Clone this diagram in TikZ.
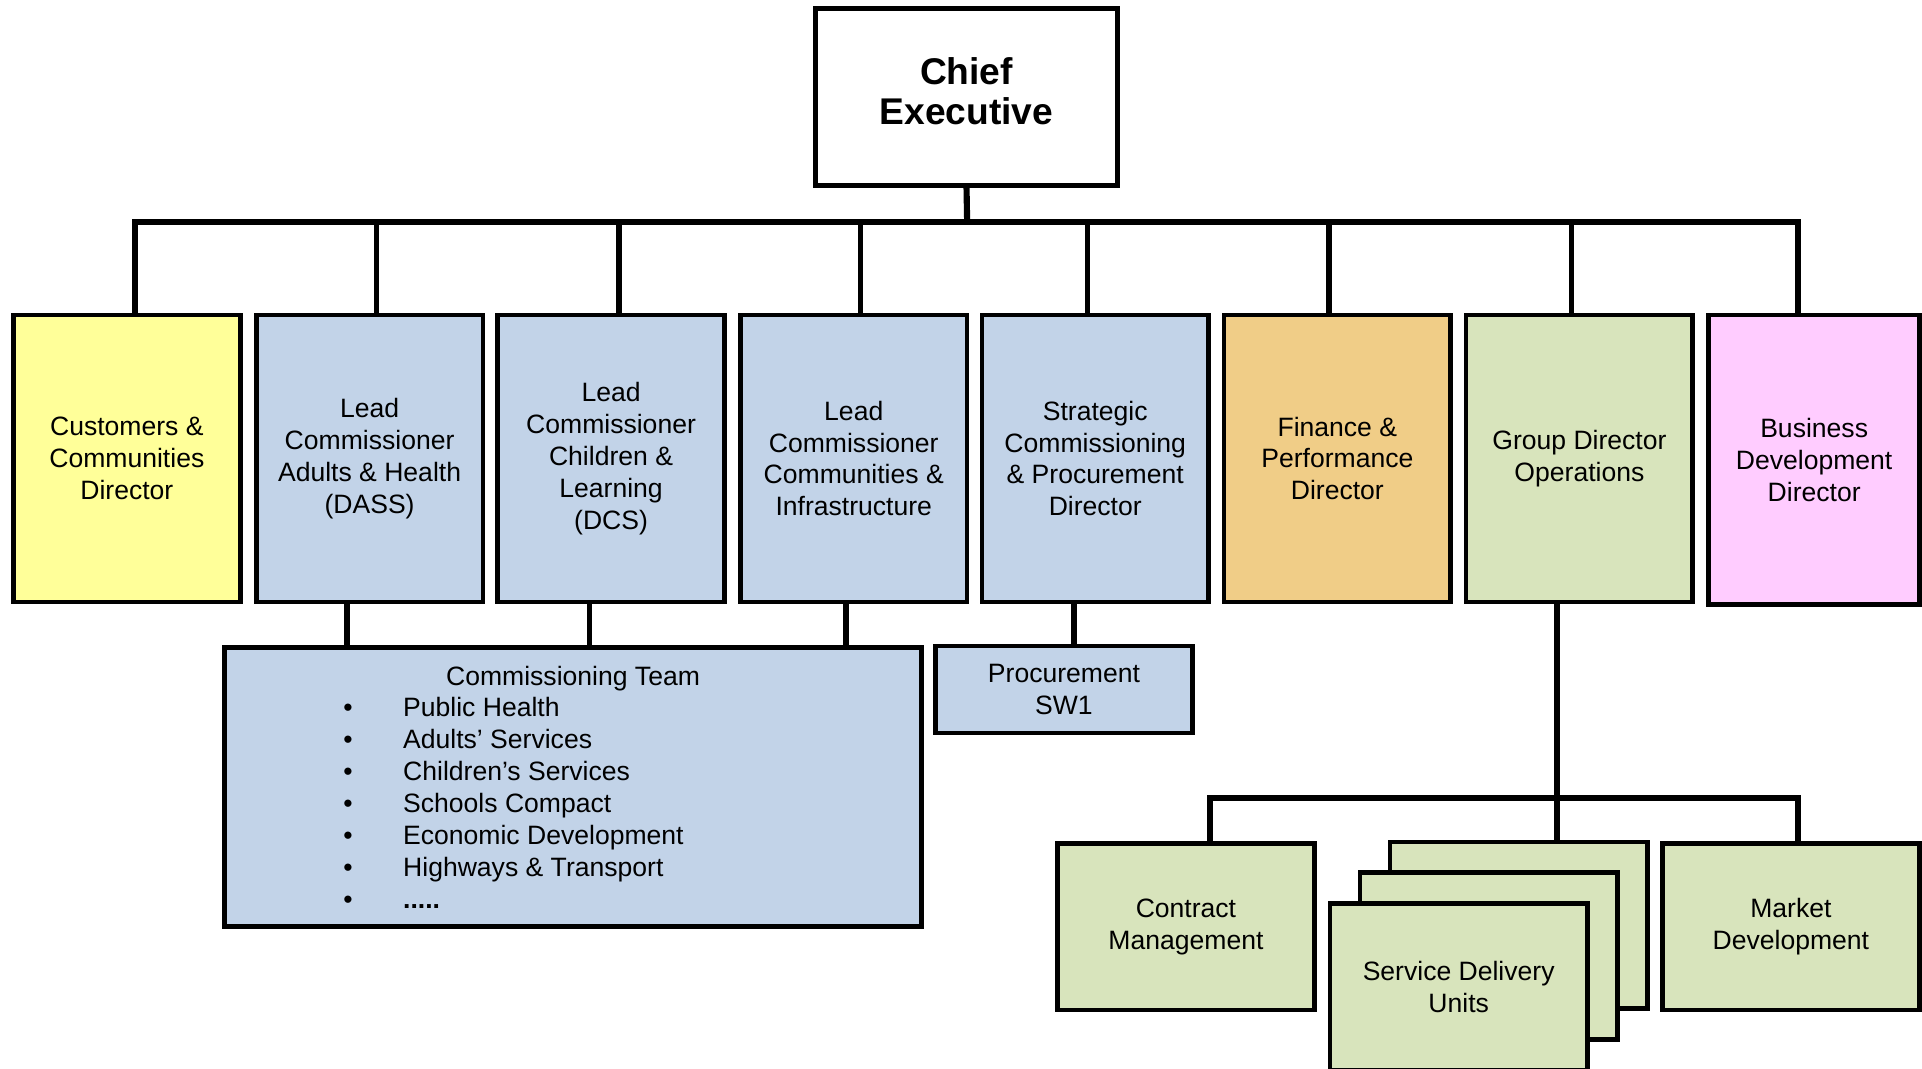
\documentclass[tikz,border=0pt]{standalone}
\usepackage{fontspec}
\setmainfont{Liberation Sans}
\definecolor{custyellow}{HTML}{FFFF99}
\definecolor{commblue}{HTML}{C2D3E8}
\definecolor{finorange}{HTML}{F0CD87}
\definecolor{opsgreen}{HTML}{D8E4BC}
\definecolor{bizpink}{HTML}{FFCCFF}
\tikzset{
  unit/.style = {draw, line width=2.3pt, align=center, inner sep=0pt,
                 font=\fontsize{13}{15.6}\selectfont},
  topbox/.style = {unit, minimum width=111pt, minimum height=140.4pt},
  lowbox/.style = {unit, fill=opsgreen, minimum width=126pt, minimum height=81.6pt},
  conn/.style = {line width=2.7pt},
  bus/.style = {line width=3pt}
}
\begin{document}
\begin{tikzpicture}[x=0.6pt, y=-0.6pt]
    \useasboundingbox (0,0) rectangle (1568,872);

    % top of the tree
    \node[unit, fill=white, line width=2.4pt, minimum width=148.2pt, minimum height=86.4pt,
          font=\fontsize{18.2}{19.5}\selectfont\bfseries] (ceo) at (788.5,79)
          {\raisebox{1.8pt}{\begin{tabular}{@{}c@{}}Chief\\Executive\end{tabular}}};
    \coordinate (bus) at (789,181);

    % directors
    \node[topbox, fill=custyellow] (cust)     at (103.5,374) {Customers \&\\Communities\\Director};
    \node[topbox, fill=commblue]   (adults)   at (301.5,374) {Lead\\Commissioner\\Adults \& Health\\(DASS)};
    \node[topbox, fill=commblue]   (children) at (498.5,374) {Lead\\Commissioner\\Children \&\\Learning\\(DCS)};
    \node[topbox, fill=commblue]   (infra)    at (696.5,374) {Lead\\Commissioner\\Communities \&\\Infrastructure};
    \node[topbox, fill=commblue]   (procdir)  at (893.5,374) {Strategic\\Commissioning\\\& Procurement\\Director};
    \node[topbox, fill=finorange]  (finance)  at (1091,374)  {Finance \&\\Performance\\Director};
    \node[topbox, fill=opsgreen]   (groupops) at (1288.5,374) {Group Director\\Operations};
    \node[topbox, fill=bizpink, minimum width=103.2pt, minimum height=141.6pt]
                                   (bizdev)   at (1480,375)  {Business\\Development\\Director};

    % commissioning and procurement teams
    \node[unit, fill=commblue, minimum width=341.4pt, minimum height=136.8pt, align=left] (team) at (467.5,642)
        {\makebox[341.4pt]{Commissioning Team}\\
         \makebox[341.4pt][l]{\hspace*{58.3pt}\textbullet\hspace*{24.7pt}Public Health}\\
         \makebox[341.4pt][l]{\hspace*{58.3pt}\textbullet\hspace*{24.7pt}Adults’ Services}\\
         \makebox[341.4pt][l]{\hspace*{58.3pt}\textbullet\hspace*{24.7pt}Children’s Services}\\
         \makebox[341.4pt][l]{\hspace*{58.3pt}\textbullet\hspace*{24.7pt}Schools Compact}\\
         \makebox[341.4pt][l]{\hspace*{58.3pt}\textbullet\hspace*{24.7pt}Economic Development}\\
         \makebox[341.4pt][l]{\hspace*{58.3pt}\textbullet\hspace*{24.7pt}Highways \& Transport}\\
         \makebox[341.4pt][l]{\hspace*{58.3pt}\textbullet\hspace*{24.7pt}\textbf{.....}}};
    \node[unit, fill=commblue, minimum width=126pt, minimum height=42.6pt] (proc) at (868,562.5) {Procurement\\SW1};

    % operations units
    \node[lowbox] (contract) at (967.5,756) {Contract\\Management};
    \node[lowbox] (sdu3) at (1239,755) {};
    \node[lowbox] (sdu2) at (1214.5,780) {};
    \node[lowbox] (sdu1) at (1190,805) {Service Delivery\\Units};
    \node[lowbox] (market) at (1461,756) {Market\\Development};

    % connectors
    \draw[bus] (ceo.south) -- (bus);
    \draw[bus] ([xshift=3.9pt]cust.north) |- (bus) -| ([xshift=-7.8pt]bizdev.north);
    \draw[conn] ([xshift=3.3pt]adults.north) -- ([xshift=3.3pt]adults.north |- bus);
    \draw[conn] ([xshift=3.9pt]children.north) -- ([xshift=3.9pt]children.north |- bus);
    \draw[conn] ([xshift=3.3pt]infra.north) -- ([xshift=3.3pt]infra.north |- bus);
    \draw[conn] ([xshift=-3.9pt]procdir.north) -- ([xshift=-3.9pt]procdir.north |- bus);
    \draw[conn] ([xshift=-4.2pt]finance.north) -- ([xshift=-4.2pt]finance.north |- bus);
    \draw[conn] ([xshift=-3.9pt]groupops.north) -- ([xshift=-3.9pt]groupops.north |- bus);

    \coordinate (a1) at ([xshift=-11.1pt]adults.south);
    \coordinate (c1) at ([xshift=-10.5pt]children.south);
    \coordinate (i1) at ([xshift=-3.9pt]infra.south);
    \coordinate (p1) at ([xshift=-10.5pt]procdir.south);
    \draw[conn] (a1) -- (a1 |- team.north);
    \draw[conn] (c1) -- (c1 |- team.north);
    \draw[conn] (i1) -- (i1 |- team.north);
    \draw[conn] (p1) -- (p1 |- proc.north);

    \coordinate (g1) at ([xshift=-11.1pt]groupops.south);
    \coordinate (opsbus) at (1270,651);
    \draw[bus] (g1) -- (g1 |- sdu3.north);
    \draw[bus] ([xshift=11.7pt]contract.north) |- (opsbus) -| ([xshift=3.6pt]market.north);
\end{tikzpicture}
\end{document}
